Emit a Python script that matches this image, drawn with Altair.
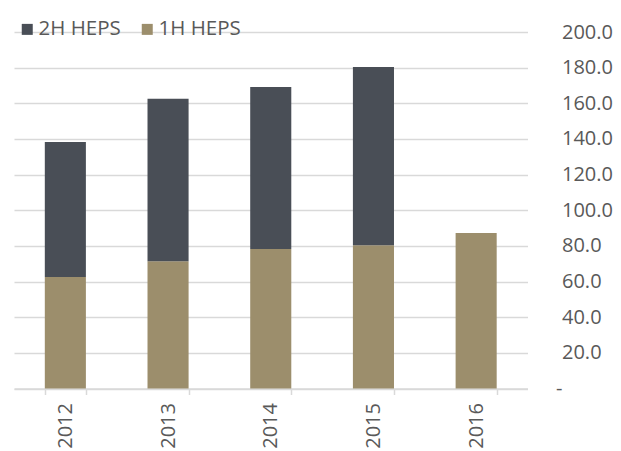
import altair as alt
import pandas as pd

years = ["2012", "2013", "2014", "2015", "2016"]
h1_heps = [62.5, 71.4, 78.2, 80.3, 87.3]
h2_heps = [75.8, 91.2, 90.9, 100.0, None]

series_names = ["2H HEPS", "1H HEPS"]
series_colors = ["#494e56", "#9c8e6c"]

rows = []
for y, a, b in zip(years, h1_heps, h2_heps):
    rows.append({"year": y, "series": "1H HEPS", "value": a, "ord": 0})
    if b is not None:
        rows.append({"year": y, "series": "2H HEPS", "value": b, "ord": 1})
df = pd.DataFrame(rows)

FONT = "Open Sans"
GREY = "#d9d9d9"
TXT = "#595959"

chart = alt.Chart(df).mark_bar().encode(
    x=alt.X("year:N", sort=years, title=None,
            scale=alt.Scale(paddingInner=0.6, paddingOuter=0.3),
            axis=alt.Axis(labelAngle=270, labelFont=FONT, labelFontSize=20,
                          labelColor=TXT, labelPadding=8,
                          domainColor=GREY, domainWidth=1.5,
                          tickColor=GREY, tickWidth=1.5, tickSize=6,
                          tickBand="extent", grid=False)),
    y=alt.Y("value:Q", stack="zero", title=None,
            scale=alt.Scale(domain=[0, 200], nice=False),
            axis=alt.Axis(orient="right", values=list(range(0, 201, 20)),
                          labelExpr="datum.value == 0 ? '-' : format(datum.value, '.1f')",
                          labelFont=FONT, labelFontSize=20, labelColor=TXT,
                          labelPadding={"condition": {"test": "datum.value == 0", "value": 28}, "value": 34},
                          labelAlign="left", labelBaseline="middle",
                          domain=False, ticks=False, tickSize=0,
                          grid=True, gridColor=GREY, gridWidth=1.5)),
    color=alt.Color("series:N",
                    scale=alt.Scale(domain=series_names, range=series_colors),
                    legend=alt.Legend(title=None, orient="none", direction="horizontal",
                                      legendX=3, legendY=-13, padding=0,
                                      symbolType="square", symbolSize=121,
                                      symbolStrokeWidth=0, labelOffset=1,
                                      columnPadding=16,
                                      labelFont=FONT, labelFontSize=20.5,
                                      labelColor=TXT)),
    order=alt.Order("ord:Q"),
).properties(
    width=513.5, height=356.5,
    autosize=alt.AutoSizeParams(type="none"),
    padding={"left": 14, "top": 32, "right": 93.5, "bottom": 62.5},
    background="white",
).configure_view(strokeWidth=0, stroke="transparent")

chart.save("out.html", embed_options={"renderer": "svg", "actions": False})
